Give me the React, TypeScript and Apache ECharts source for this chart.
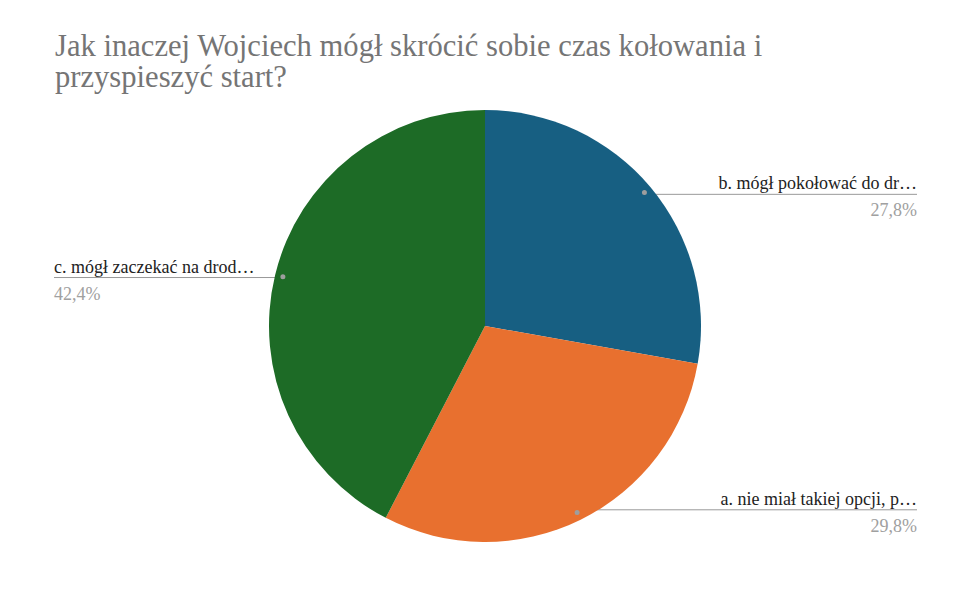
import React, { useEffect, useRef } from 'react';
import * as echarts from 'echarts';

// dane wykresu
const categories = ['b. mógł pokołować do dr…', 'a. nie miał takiej opcji, p…', 'c. mógł zaczekać na drod…'];
const values = [27.8, 29.8, 42.4];
const colors = ['#175f82', '#e8702f', '#1d6b26'];
const edgeDistances = [59, 59, 54];

const FONT = 'Liberation Serif';
const CX = 485;
const CY = 326;
const PIE_R = 216;
const DOT_R = 205;

const App: React.FC = () => {
  const chartRef = useRef<HTMLDivElement>(null);

  useEffect(() => {
    document.body.style.margin = '0';
    if (!chartRef.current) return;

    const chartInstance = echarts.init(chartRef.current, null, { renderer: 'svg' });

    const pieData = categories.map((name, i) => ({
      name,
      value: values[i],
      itemStyle: { color: colors[i] },
      label: { edgeDistance: edgeDistances[i] }
    }));

    const option = {
      animation: false,
      textStyle: { fontFamily: FONT },
      title: {
        text: 'Jak inaczej Wojciech mógł skrócić sobie czas kołowania i\nprzyspieszyć start?',
        left: 55,
        top: 30,
        padding: 0,
        textStyle: {
          fontFamily: FONT,
          fontSize: 30.6,
          fontWeight: 'normal',
          color: '#757575',
          lineHeight: 31
        }
      },
      series: [
        {
          type: 'pie',
          center: [CX, CY],
          radius: PIE_R,
          startAngle: 90,
          clockwise: true,
          emphasis: { disabled: true },
          itemStyle: { borderWidth: 0 },
          data: pieData,
          label: {
            show: true,
            position: 'outside',
            alignTo: 'edge',
            distanceToLabelLine: 5,
            formatter: (p: any) =>
              '{n|' + p.name + '}\n{p|' + p.value.toFixed(1).replace('.', ',') + '%}',
            rich: {
              n: { fontFamily: FONT, fontSize: 18, color: '#222222', lineHeight: 32 },
              p: { fontFamily: FONT, fontSize: 18, color: '#a0a0a0', lineHeight: 22 }
            }
          },
          labelLine: {
            show: true,
            length: DOT_R - PIE_R,
            length2: 10,
            minTurnAngle: 0,
            maxSurfaceAngle: 180,
            lineStyle: { color: '#999999', width: 1 }
          },
          labelLayout: (params: any) => {
            const pts = params.labelLinePoints;
            if (!pts) return {};
            const k = DOT_R / PIE_R;
            const ix = CX + (pts[0][0] - CX) * k;
            const iy = CY + (pts[0][1] - CY) * k;
            const r = params.labelRect;
            const far = ix > CX ? r.x + r.width : r.x;
            return { labelLinePoints: [[ix, iy], [far, iy]] };
          }
        },
        {
          // kropki na końcach linii etykiet
          type: 'pie',
          center: [CX, CY],
          radius: [DOT_R - 5, DOT_R + 5],
          startAngle: 90,
          clockwise: true,
          silent: true,
          emphasis: { disabled: true },
          itemStyle: { color: 'transparent' },
          data: categories.map((name, i) => ({ name, value: values[i] })),
          label: {
            show: true,
            position: 'inside',
            formatter: '{dot|}',
            rich: {
              dot: { width: 5, height: 5, borderRadius: 3, backgroundColor: '#9e9e9e' }
            }
          },
          labelLine: { show: false }
        }
      ]
    };

    chartInstance.setOption(option);

    return () => {
      chartInstance.dispose();
    };
  }, []);

  return <div ref={chartRef} style={{ width: '976px', height: '591px' }} />;
};

export default App;
